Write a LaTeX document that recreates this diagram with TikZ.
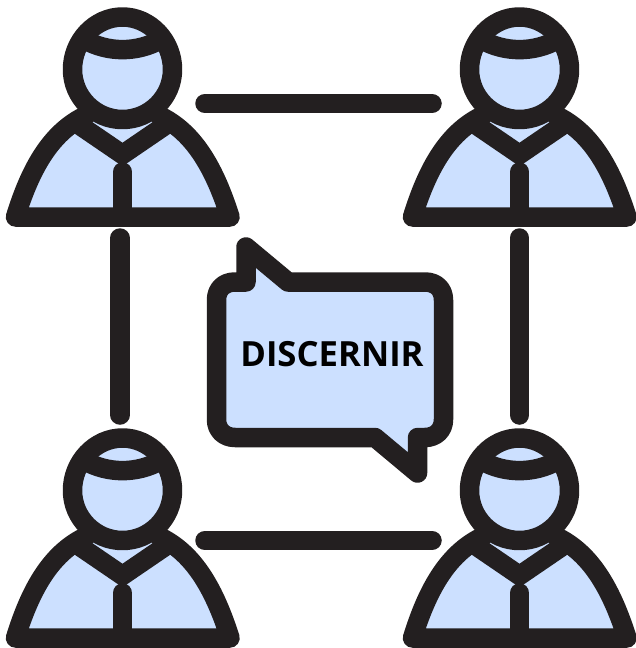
\documentclass[tikz,border=0pt]{standalone}
\usepackage{fontspec}
\setmainfont{Open Sans}
\definecolor{ink}{HTML}{231F20}
\definecolor{tint}{HTML}{CCE0FF}
\tikzset{
  x=1pt,y=-1pt,
  outline/.style={draw=ink,line width=19.5pt,line cap=round,line join=round},
  filled/.style={outline,fill=tint},
  person/.pic={
    \path[fill=tint] (15.5,217) .. controls (30,170) and (50,133) .. (85,116)
       -- (160,116) .. controls (195,133) and (215,170) .. (230,217) -- cycle;
    \path[outline] (85,116) .. controls (50,133) and (30,170) .. (15.5,217)
       -- (230,217) .. controls (215,170) and (195,133) .. (160,116);
    \path[outline] (80,125.5) -- (122.5,154.5) -- (165,125.5);
    \path[outline] (122.5,172) -- (122.5,217);
    \path[filled] (122.5,17) .. controls (150,17) and (172.5,41) .. (172.5,69.5)
       .. controls (172.5,97) and (150,119.5) .. (122.5,119.5)
       .. controls (95,119.5) and (72.5,97) .. (72.5,69.5)
       .. controls (72.5,41) and (95,17) .. (122.5,17) -- cycle;
    \path[outline,line cap=butt] (84,39.5) .. controls (108,53) and (137,53) .. (161,39.5);
  }
}
\begin{document}
\begin{tikzpicture}
\useasboundingbox (0,0) rectangle (636,648);
\coordinate (tl) at (205,103.5); \coordinate (tr) at (432,103.5);
\coordinate (bl) at (205,540.5); \coordinate (br) at (432,540.5);
\coordinate (lt) at (120,238);   \coordinate (lb) at (120,415);
\coordinate (rt) at (519.5,238); \coordinate (rb) at (519.5,415);
\pic at (0,0) {person};
\pic at (397,0) {person};
\pic at (0,421) {person};
\pic at (397,421) {person};
\draw[outline] (tl) -- (tr);
\draw[outline] (bl) -- (br);
\draw[outline] (lt) -- (lb);
\draw[outline] (rt) -- (rb);
\path[filled] (216.5,300) .. controls (216.5,289) and (224,282) .. (235,282)
  -- (246,282) -- (246,247) -- (288,282) -- (425,282)
  .. controls (436,282) and (443.5,289) .. (443.5,300)
  -- (443.5,419.5) .. controls (443.5,430) and (436,437.5) .. (425,437.5)
  -- (417.5,437.5) -- (417.5,473) -- (375,437.5) -- (235,437.5)
  .. controls (224,437.5) and (216.5,430) .. (216.5,419.5) -- cycle;
\node[font=\bfseries\fontsize{34.7}{37}\selectfont,text=black,inner sep=0pt] (label) at (332,354) {DISCERNIR};
\end{tikzpicture}
\end{document}
